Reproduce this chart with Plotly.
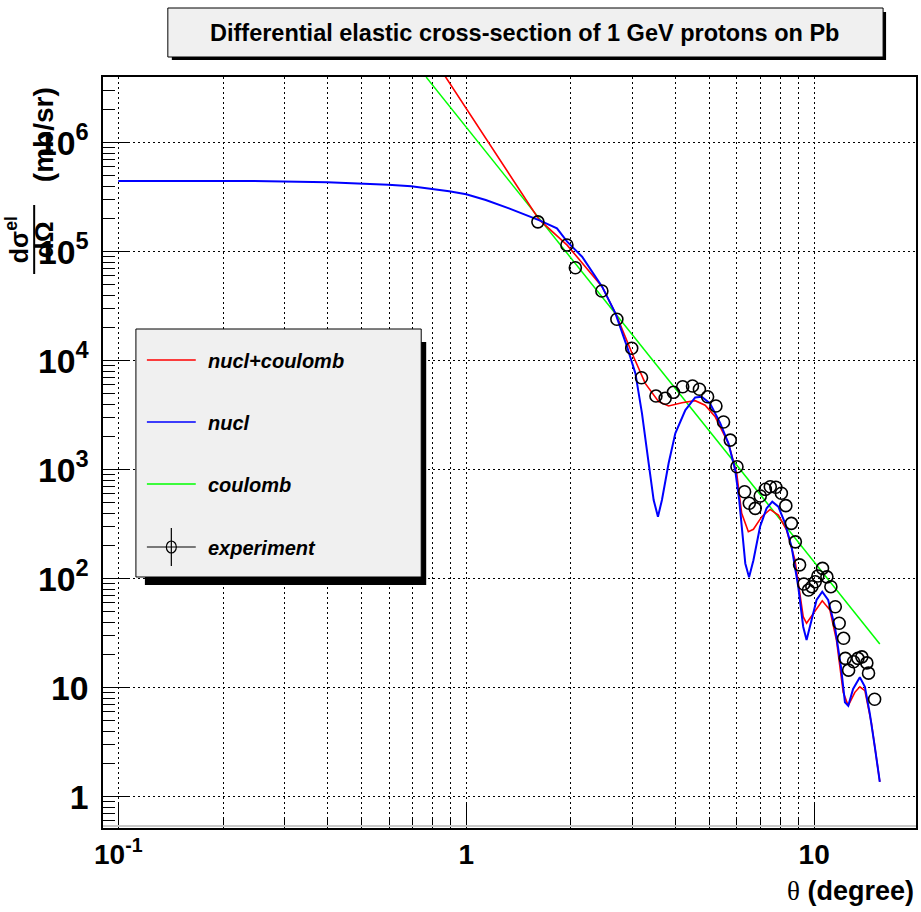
import plotly.graph_objects as go

# ---------------- data ----------------
theta_nc = [0.86, 1.202, 1.618, 1.95, 2.458, 2.714, 2.996, 3.27, 3.573, 3.817, 4.17, 4.55,
            4.86, 5.195, 5.67, 5.99, 6.19, 6.47, 6.69, 7.07, 7.47, 7.89, 8.33, 8.81, 9.11,
            9.30, 9.51, 9.94, 10.55, 11.1, 11.59, 12.12, 12.53, 13.09, 13.53, 13.99, 14.61, 15.44]
sigma_nc = [4.3e6, 8.39e5, 1.98e5, 1.15e5, 4.78e4, 2.53e4, 1.17e4, 6.2e3, 4.21e3, 3.84e3,
            4.12e3, 4.3e3, 3.91e3, 3.06e3, 1.746e3, 927, 398, 270, 284, 371, 432, 383, 280,
            148, 69.8, 44.8, 39, 48.2, 62.8, 51.6, 27.4, 9.07, 6.84, 9.07, 10.2, 9.39, 4.71, 1.37]

theta_n = [0.1, 0.237, 0.399, 0.499, 0.597, 0.695, 0.798, 0.893, 1.0, 1.138, 1.327, 1.514,
           1.618, 1.823, 1.95, 2.153, 2.458, 2.685, 2.90, 3.064, 3.20, 3.345, 3.457, 3.557,
           3.652, 3.817, 3.99, 4.264, 4.55, 4.75, 5.02, 5.37, 5.67, 5.93, 6.09, 6.34, 6.50,
           6.69, 6.99, 7.30, 7.58, 7.89, 8.25, 8.61, 9.0, 9.30, 9.51, 9.83, 10.16, 10.55,
           10.97, 11.47, 11.94, 12.26, 12.53, 12.94, 13.53, 13.99, 14.45, 14.94, 15.44]
sigma_n = [4.46e5, 4.46e5, 4.34e5, 4.24e5, 4.12e5, 3.98e5, 3.78e5, 3.58e5, 3.36e5, 2.98e5,
           2.50e5, 2.13e5, 1.95e5, 1.64e5, 1.236e5, 9.0e4, 4.78e4, 2.72e4, 1.34e4, 7.65e3,
           3.29e3, 1.145e3, 527, 371, 527, 1.145e3, 2.16e3, 3.53e3, 4.61e3, 4.67e3, 4.06e3,
           2.67e3, 1.746e3, 993, 527, 138, 103, 148, 300, 443, 509, 458, 322, 197, 84.5,
           36.3, 27.4, 41.8, 63.8, 76, 63.8, 36.3, 15.6, 7.35, 6.84, 9.73, 12.46, 10.2,
           5.82, 2.87, 1.37]

theta_c = [0.767, 1.618, 6.0, 15.44]
sigma_c = [4.0e6, 2.04e5, 1.1e3, 25.2]

theta_exp = [1.607, 1.947, 2.059, 2.454, 2.71, 2.99, 3.19, 3.51, 3.73, 3.94, 4.19, 4.47,
             4.68, 4.94, 5.22, 5.49, 5.74, 6.0, 6.31, 6.51, 6.77, 7.0, 7.24, 7.48, 7.76,
             8.05, 8.29, 8.6, 8.83, 9.08, 9.34, 9.63, 9.85, 10.07, 10.25, 10.57, 10.88,
             11.17, 11.5, 11.8, 12.15, 12.29, 12.56, 12.98, 13.36, 13.71, 14.17, 14.33, 14.92]
sigma_exp = [1.88e5, 1.152e5, 7.13e4, 4.36e4, 2.40e4, 1.30e4, 6.98e3, 4.74e3, 4.52e3,
             5.13e3, 5.77e3, 5.86e3, 5.47e3, 4.67e3, 3.84e3, 2.74e3, 1.87e3, 1.065e3, 628,
             492, 442, 574, 661, 698, 690, 608, 468, 322, 218, 134, 89.4, 78.7, 84.5, 93.9,
             106, 124.5, 104, 84.5, 55.3, 39, 28.4, 18.6, 14.5, 17.3, 18.6, 19.2, 16.9,
             13.6, 7.83]

x_tickvals = [0.1, 1, 10]
x_ticktext = ["10<sup>-1</sup>", "1", "10"]

legend_names = ["nucl+coulomb", "nucl", "coulomb", "experiment"]
legend_colors = ["#ff0000", "#0000ff", "#00ff00", "#000000"]
title_text = "Differential elastic cross-section of 1 GeV protons on Pb"

# ---------------- layout helpers (pixel -> paper) ----------------
W, H = 921, 912
L, R, T, B = 103, 918, 77, 828


def PX(px):
    return (px - L) / (R - L)


def PY(py):
    return (B - py) / (B - T)


SANS = "Liberation Sans, Arial, Helvetica, sans-serif"

fig = go.Figure()

fig.add_trace(go.Scatter(x=theta_c, y=sigma_c, mode="lines",
                         line=dict(color=legend_colors[2], width=1.5),
                         name=legend_names[2], showlegend=False))
fig.add_trace(go.Scatter(x=theta_nc, y=sigma_nc, mode="lines",
                         line=dict(color=legend_colors[0], width=1.6),
                         name=legend_names[0], showlegend=False))
fig.add_trace(go.Scatter(x=theta_n, y=sigma_n, mode="lines",
                         line=dict(color=legend_colors[1], width=2),
                         name=legend_names[1], showlegend=False))
fig.add_trace(go.Scatter(x=theta_exp, y=sigma_exp, mode="markers",
                         marker=dict(symbol="circle-open", size=12,
                                     color="black", line=dict(width=1.6, color="black")),
                         name=legend_names[3], showlegend=False))

GRID_DASH = "2px,3px"

fig.update_xaxes(
    type="log", range=[-1.0439, 1.2927],
    showline=True, mirror=True, linecolor="black", linewidth=2,
    ticks="inside", ticklen=25, tickwidth=1, tickcolor="black",
    tickmode="array", tickvals=x_tickvals, ticktext=x_ticktext,
    tickfont=dict(family=SANS, size=28, color="black", weight="bold"),
    ticklabelstandoff=0,
    showgrid=True, gridcolor="black", gridwidth=1, griddash=GRID_DASH,
    minor=dict(ticks="inside", ticklen=10, tickwidth=1, tickcolor="black",
               tickmode="linear", dtick="D1", showgrid=True, gridcolor="black",
               gridwidth=1, griddash=GRID_DASH),
    zeroline=False,
)
fig.update_yaxes(
    type="log", range=[-0.287, 6.603],
    showline=True, mirror=True, linecolor="black", linewidth=2,
    ticks="inside", ticklen=25, tickwidth=1, tickcolor="black",
    dtick=1, exponentformat="power",
    tickfont=dict(family=SANS, size=27, color="black", weight="bold"),
    ticklabelstandoff=7,
    showgrid=True, gridcolor="black", gridwidth=1, griddash=GRID_DASH,
    minor=dict(ticks="inside", ticklen=12, tickwidth=1, tickcolor="black",
               dtick="D1", showgrid=False),
    zeroline=False,
)

shapes = []
# thin grey line inside bottom frame
shapes.append(dict(type="line", xref="paper", yref="paper",
                   x0=PX(L), x1=PX(R), y0=PY(826), y1=PY(826),
                   line=dict(color="#c8c8c8", width=2), layer="above"))
# title box shadow + box
shapes.append(dict(type="rect", xref="paper", yref="paper",
                   x0=PX(172), x1=PX(888), y0=PY(60), y1=PY(12),
                   fillcolor="black", line=dict(width=0), layer="above"))
shapes.append(dict(type="rect", xref="paper", yref="paper",
                   x0=PX(168), x1=PX(885), y0=PY(57), y1=PY(8),
                   fillcolor="#f0f0f0", line=dict(color="black", width=1), layer="above"))
# legend shadow + box
shapes.append(dict(type="rect", xref="paper", yref="paper",
                   x0=PX(145), x1=PX(427), y0=PY(585), y1=PY(342),
                   fillcolor="black", line=dict(width=0), layer="above"))
shapes.append(dict(type="rect", xref="paper", yref="paper",
                   x0=PX(136), x1=PX(422), y0=PY(577), y1=PY(329),
                   fillcolor="#f0f0f0", line=dict(color="black", width=1), layer="above"))

leg_y = [360, 422, 484, 547]
annotations = []
for i, (name, col) in enumerate(zip(legend_names, legend_colors)):
    y = leg_y[i]
    shapes.append(dict(type="line", xref="paper", yref="paper",
                       x0=PX(147), x1=PX(196), y0=PY(y), y1=PY(y),
                       line=dict(color=col, width=1.6 if i < 3 else 1.2), layer="above"))
    annotations.append(dict(x=PX(206), y=PY(y + 1), xref="paper", yref="paper",
                            text=name, showarrow=False, xanchor="left", yanchor="middle",
                            font=dict(family=SANS, size=20, color="black",
                                      weight="bold", style="italic")))
# experiment symbol: vertical bar + circle
shapes.append(dict(type="line", xref="paper", yref="paper",
                   x0=PX(171.5), x1=PX(171.5), y0=PY(528), y1=PY(566),
                   line=dict(color="black", width=1.2), layer="above"))
shapes.append(dict(type="circle", xref="paper", yref="paper",
                   x0=PX(166.5), x1=PX(176.5), y0=PY(553), y1=PY(541),
                   line=dict(color="black", width=1.2), fillcolor="rgba(0,0,0,0)",
                   layer="above"))

# y-axis title fraction bar
shapes.append(dict(type="line", xref="paper", yref="paper",
                   x0=PX(34), x1=PX(34), y0=PY(205), y1=PY(274),
                   line=dict(color="black", width=2), layer="above"))

# title
annotations.append(dict(x=PX(526), y=PY(33), xref="paper", yref="paper",
                        text=title_text, showarrow=False, xanchor="center", yanchor="middle",
                        font=dict(family=SANS, size=23.5, color="black", weight="bold")))
# x-axis title
annotations.append(dict(x=PX(918), y=PY(891), xref="paper", yref="paper",
                        text="<span style='font-family:Liberation Serif;font-weight:normal'>θ</span> (degree)",
                        showarrow=False, xanchor="right", yanchor="middle",
                        font=dict(family=SANS, size=27, color="black", weight="bold")))
# y-axis title pieces
annotations.append(dict(x=PX(17), y=PY(240), xref="paper", yref="paper",
                        text="dσ<sup>el</sup>", textangle=-90, showarrow=False,
                        xanchor="center", yanchor="middle",
                        font=dict(family=SANS, size=25, color="black", weight="bold")))
annotations.append(dict(x=PX(44), y=PY(240), xref="paper", yref="paper",
                        text="dΩ", textangle=-90, showarrow=False,
                        xanchor="center", yanchor="middle",
                        font=dict(family=SANS, size=26, color="black", weight="bold")))
annotations.append(dict(x=PX(43), y=PY(135), xref="paper", yref="paper",
                        text="(mb/sr)", textangle=-90, showarrow=False,
                        xanchor="center", yanchor="middle",
                        font=dict(family=SANS, size=28, color="black", weight="bold")))

fig.update_layout(
    width=W, height=H,
    margin=dict(l=L, r=W - R, t=T, b=H - B, pad=0),
    paper_bgcolor="white", plot_bgcolor="white",
    showlegend=False,
    shapes=shapes, annotations=annotations,
)

fig.write_html("out.html")
